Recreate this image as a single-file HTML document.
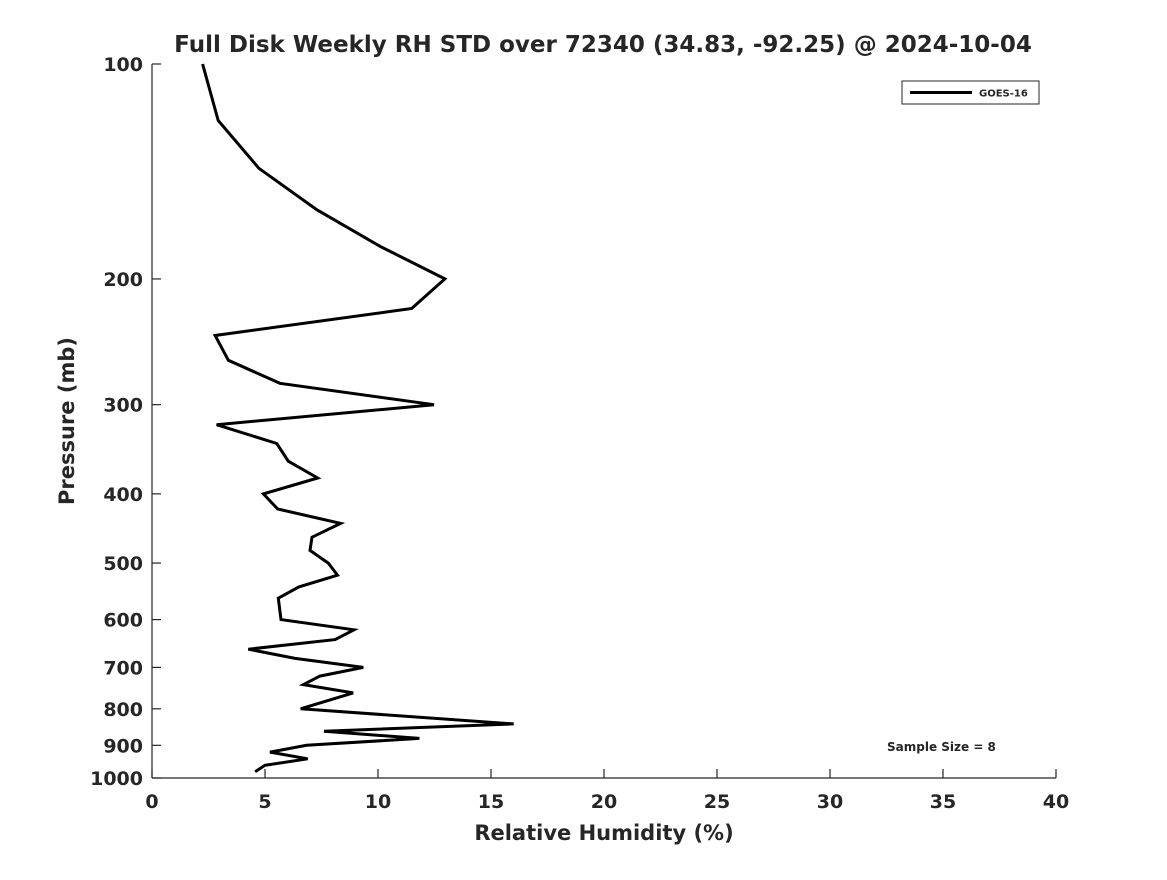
<!DOCTYPE html>
<html><head><meta charset="utf-8"><style>
html,body{margin:0;padding:0;background:#fff}
svg text{font-family:"DejaVu Sans","Liberation Sans",sans-serif;font-weight:bold;fill:#262626}
</style></head><body>
<svg id="chart" width="1167" height="875" xmlns="http://www.w3.org/2000/svg">
<rect width="1167" height="875" fill="#fff"/>
<text x="603" y="52" font-size="23" text-anchor="middle" fill="#000">Full Disk Weekly RH STD over 72340 (34.83, -92.25) @ 2024-10-04</text>
<g id="axes"></g>
<path id="series" fill="none" stroke="#000" stroke-width="3" stroke-linejoin="miter"/>
<rect x="902" y="81" width="137" height="23" fill="#fff" stroke="#262626" stroke-width="1"/>
<line x1="910" y1="92.5" x2="972" y2="92.5" stroke="#000" stroke-width="3"/>
<text x="979" y="96.5" font-size="10" fill="#000">GOES-16</text>
<text x="887" y="751" font-size="12" fill="#000">Sample Size = 8</text>
<text x="604" y="840" font-size="21" text-anchor="middle">Relative Humidity (%)</text>
<text transform="translate(74,421) rotate(-90)" font-size="21" text-anchor="middle">Pressure (mb)</text>
</svg>
<script>
const pressures=[100,120,140,160,180,200,220,240,260,280,300,320,340,360,380,400,420,440,460,480,500,520,540,560,600,620,640,660,680,700,720,740,760,800,840,860,880,900,920,940,960,980];
const rhStd=[2.24,2.93,4.73,7.29,10.09,12.96,11.49,2.79,3.38,5.66,12.48,2.86,5.52,6.03,7.33,4.93,5.56,8.35,7.08,6.99,7.8,8.21,6.5,5.59,5.71,8.94,8.1,4.26,6.33,9.35,7.43,6.7,8.9,6.58,16.0,7.61,11.83,6.84,5.22,6.89,5.0,4.56];
const xTicks=[0,5,10,15,20,25,30,35,40];
const yTicks=[100,200,300,400,500,600,700,800,900,1000];
const X0=152,X1=1056,Y0=64,Y1=778;
function xs(v){return X0+(v-0)/(40-0)*(X1-X0);}
function ys(p){return Y0+Math.log10(p/100)*(Y1-Y0);}
const NS="http://www.w3.org/2000/svg";
const g=document.getElementById('axes');
function mk(t,a){const e=document.createElementNS(NS,t);for(const k in a)e.setAttribute(k,a[k]);g.appendChild(e);return e;}
let e=mk('line',{x1:X0,y1:Y0,x2:X0,y2:Y1,stroke:'#262626','stroke-width':1.2});


e=mk('line',{x1:X0,y1:Y1,x2:X1,y2:Y1,stroke:'#262626','stroke-width':1.2});


xTicks.forEach(v=>{
 const x=xs(v);
 let t=mk('line',{x1:x,y1:Y1,x2:x,y2:Y1-9,stroke:'#262626','stroke-width':1.2});
 
 
 let l=mk('text',{x:x,y:808,'font-size':19,'text-anchor':'middle'});
 l.textContent=v;
 
 
});
yTicks.forEach(p=>{
 const y=ys(p);
 let t=mk('line',{x1:X0,y1:y,x2:X0+9,y2:y,stroke:'#262626','stroke-width':1.2});
 
 
 let l=mk('text',{x:143,y:y+7,'font-size':19,'text-anchor':'end'});
 l.textContent=p;
 
 
});
document.getElementById('series').setAttribute('d',pressures.map((p,i)=>(i?'L':'M')+xs(rhStd[i]).toFixed(1)+','+ys(p).toFixed(1)).join(''));
</script>
</body></html>
